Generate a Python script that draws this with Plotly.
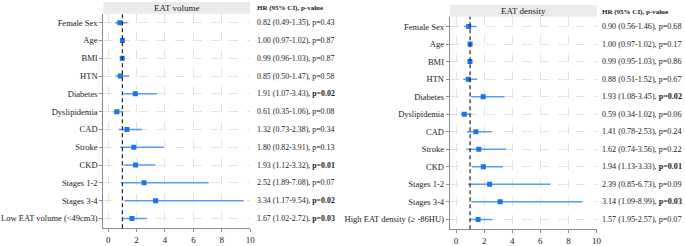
import plotly.graph_objects as go

rows = ["Female Sex", "Age", "BMI", "HTN", "Diabetes", "Dyslipidemia",
        "CAD", "Stroke", "CKD", "Stages 1-2", "Stages 3-4"]

# EAT volume model
vol_last = "Low EAT volume (<49cm3)"
vol_hr = [0.82, 1.00, 0.99, 0.85, 1.91, 0.61, 1.32, 1.80, 1.93, 2.52, 3.34, 1.67]
vol_lo = [0.49, 0.97, 0.96, 0.50, 1.07, 0.35, 0.73, 0.82, 1.12, 0.89, 1.17, 1.02]
vol_hi = [1.35, 1.02, 1.03, 1.47, 3.43, 1.06, 2.38, 3.91, 3.32, 7.08, 9.54, 2.72]
vol_txt = ["0.82 (0.49-1.35), p=0.43", "1.00 (0.97-1.02), p=0.87",
           "0.99 (0.96-1.03), p=0.87", "0.85 (0.50-1.47), p=0.58",
           "1.91 (1.07-3.43), <b>p=0.02</b>", "0.61 (0.35-1.06), p=0.08",
           "1.32 (0.73-2.38), p=0.34", "1.80 (0.82-3.91), p=0.13",
           "1.93 (1.12-3.32), <b>p=0.01</b>", "2.52 (1.89-7.08), p=0.07",
           "3.34 (1.17-9.54), <b>p=0.02</b>", "1.67 (1.02-2.72), <b>p=0.03</b>"]

# EAT density model
den_last = "High EAT density (\u2265 -86HU)"
den_hr = [0.90, 1.00, 0.99, 0.88, 1.93, 0.59, 1.41, 1.62, 1.94, 2.39, 3.14, 1.57]
den_lo = [0.56, 0.97, 0.95, 0.51, 1.08, 0.34, 0.78, 0.74, 1.13, 0.85, 1.09, 0.95]
den_hi = [1.46, 1.02, 1.03, 1.52, 3.45, 1.02, 2.53, 3.56, 3.33, 6.73, 8.99, 2.57]
den_txt = ["0.90 (0.56-1.46), p=0.68", "1.00 (0.97-1.02), p=0.17",
           "0.99 (0.95-1.03), p=0.86", "0.88 (0.51-1.52), p=0.67",
           "1.93 (1.08-3.45), <b>p=0.02</b>", "0.59 (0.34-1.02), p=0.06",
           "1.41 (0.78-2.53), p=0.24", "1.62 (0.74-3.56), p=0.22",
           "1.94 (1.13-3.33), <b>p=0.01</b>", "2.39 (0.85-6.73), p=0.09",
           "3.14 (1.09-8.99), <b>p=0.03</b>", "1.57 (1.95-2.57), p=0.07"]

x_ticks = [0, 2, 4, 6, 8, 10]

W, H = 685, 246
FONT = "Liberation Serif"
LINE_C = "#5A9CF0"
MARK_C = "#1B74EA"
TXT_C = "#1a1a1a"

panels = [
    dict(title="EAT volume", labels=rows + [vol_last], hr=vol_hr, lo=vol_lo, hi=vol_hi, txt=vol_txt,
         x0=104, x1=252, top=14, bot=232, strip_top=2, tx=257, hy=8, yr=[0.45, 12.5], xr=[-0.35, 10.0],
         tsize=7.9),
    dict(title="EAT density", labels=rows + [den_last], hr=den_hr, lo=den_lo, hi=den_hi, txt=den_txt,
         x0=453, x1=601, top=17, bot=233, strip_top=5, tx=604, hy=12, yr=[0.44, 12.56], xr=[-0.45, 10.0],
         tsize=8.1),
]

fig = go.Figure()
annotations = []
shapes = []
for i, p in enumerate(panels):
    n = len(p["labels"])
    ypos = [n - k for k in range(n)]
    xa = "x" if i == 0 else "x2"
    ya = "y" if i == 0 else "y2"
    fig.add_trace(go.Scatter(
        x=p["hr"], y=ypos, mode="markers", xaxis=xa, yaxis=ya,
        marker=dict(symbol="square", size=5, color=MARK_C),
        error_x=dict(type="data", symmetric=False,
                     array=[h - m for h, m in zip(p["hi"], p["hr"])],
                     arrayminus=[m - l for m, l in zip(p["hr"], p["lo"])],
                     width=0, thickness=1.5, color=LINE_C),
        showlegend=False, hoverinfo="skip"))
    axis_x = dict(domain=[p["x0"] / W, p["x1"] / W], range=p["xr"], tickvals=x_ticks,
                  showgrid=True, gridcolor="#E3E3E3", griddash="dash", gridwidth=1,
                  zeroline=False, showline=True, linecolor="#8C8C8C", linewidth=1,
                  ticks="outside", ticklen=3, tickcolor="#8C8C8C",
                  tickfont=dict(family=FONT, size=9, color=TXT_C), anchor=ya)
    axis_y = dict(domain=[1 - p["bot"] / H, 1 - p["top"] / H], range=p["yr"],
                  tickvals=ypos, ticktext=p["labels"],
                  showgrid=True, gridcolor="#E3E3E3", griddash="dash", gridwidth=1,
                  zeroline=False, showline=True, linecolor="#8C8C8C", linewidth=1,
                  ticks="outside", ticklen=3, tickcolor="#8C8C8C",
                  tickfont=dict(family=FONT, size=8.5, color=TXT_C), anchor=xa)
    if i == 0:
        fig.update_layout(xaxis=axis_x, yaxis=axis_y)
    else:
        fig.update_layout(xaxis2=axis_x, yaxis2=axis_y)
    # reference line at HR = 1
    shapes.append(dict(type="line", xref=xa, yref=f"{ya} domain", x0=1, x1=1, y0=0, y1=1,
                       line=dict(color="#222", width=1.2, dash="4px,3px")))
    # strip header
    shapes.append(dict(type="rect", xref="paper", yref="paper",
                       x0=p["x0"] / W, x1=p["x1"] / W,
                       y0=1 - p["top"] / H, y1=1 - p["strip_top"] / H,
                       fillcolor="#EBEBEB", line=dict(width=0), layer="below"))
    annotations.append(dict(text=p["title"], xref="paper", yref="paper",
                            x=(p["x0"] + p["x1"]) / 2 / W, y=1 - (p["strip_top"] + p["top"]) / 2 / H,
                            xanchor="center", yanchor="middle", showarrow=False,
                            font=dict(family=FONT, size=9, color=TXT_C)))
    annotations.append(dict(text="<b>HR (95% CI), p-value</b>", xref="paper", yref="paper",
                            x=p["tx"] / W, y=1 - p["hy"] / H, xanchor="left", yanchor="middle",
                            showarrow=False, font=dict(family=FONT, size=7, color=TXT_C)))
    for yv, t in zip(ypos, p["txt"]):
        annotations.append(dict(text=t, xref="paper", yref=ya, x=p["tx"] / W, y=yv,
                                xanchor="left", yanchor="middle", showarrow=False,
                                font=dict(family=FONT, size=p["tsize"], color=TXT_C)))

fig.update_layout(width=W, height=H, margin=dict(l=0, r=0, t=0, b=0),
                  paper_bgcolor="white", plot_bgcolor="white",
                  shapes=shapes, annotations=annotations)
fig.write_html("out.html", config={"displayModeBar": False},
               post_script="document.body.style.margin='0';document.body.style.padding='0';")
